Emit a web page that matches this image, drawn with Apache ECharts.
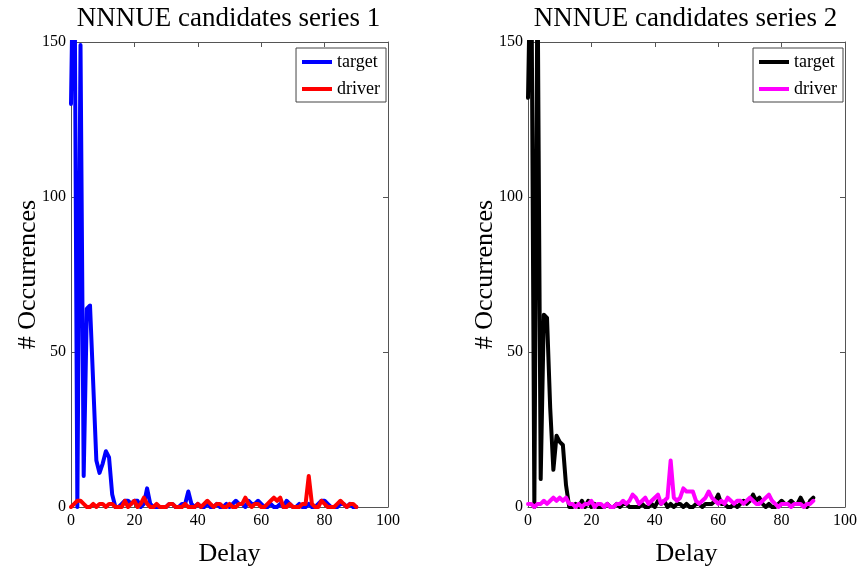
<!DOCTYPE html>
<html>
<head>
<meta charset="utf-8">
<script src="https://cdn.jsdelivr.net/npm/echarts@6/dist/echarts.min.js"></script>
<style>
  html, body { margin: 0; padding: 0; background: #fff; }
  #chart { width: 860px; height: 572px; }
</style>
</head>
<body>
<div id="chart"></div>
<script>
// Delay histograms for two NNNUE candidate series (target vs driver).
const delays = Array.from({ length: 91 }, (_, i) => i);

const series1Target = [
  130, 200, 0, 149, 10, 64, 65, 40, 15, 11,
  14, 18, 16, 4, 0, 0, 1, 2, 2, 1,
  2, 2, 0, 1, 6, 1, 0, 0, 0, 0,
  0, 1, 1, 0, 0, 1, 1, 5, 1, 0,
  1, 0, 0, 1, 0, 0, 1, 0, 0, 1,
  0, 1, 2, 1, 1, 0, 2, 1, 1, 2,
  1, 0, 0, 1, 0, 0, 1, 0, 2, 1,
  0, 0, 1, 0, 0, 1, 0, 0, 1, 2,
  2, 1, 0, 0, 0, 1, 1, 0, 1, 0,
  0
];
const series1Driver = [
  0, 1, 2, 2, 1, 0, 0, 1, 0, 1,
  1, 0, 1, 1, 0, 0, 0, 2, 0, 1,
  2, 0, 1, 3, 1, 0, 0, 1, 0, 0,
  0, 1, 1, 0, 0, 0, 1, 0, 0, 0,
  1, 0, 1, 2, 1, 0, 1, 1, 0, 0,
  1, 0, 0, 1, 1, 3, 1, 0, 1, 1,
  0, 0, 1, 2, 3, 2, 3, 0, 0, 1,
  0, 0, 0, 1, 1, 10, 1, 0, 0, 2,
  1, 0, 0, 0, 1, 2, 1, 0, 1, 1,
  0
];
const series2Target = [
  132, 190, 0, 175, 9, 62, 61, 32, 12, 23,
  21, 20, 7, 0, 0, 1, 0, 2, 0, 2,
  0, 1, 0, 0, 0, 1, 0, 0, 1, 0,
  1, 1, 0, 0, 0, 0, 1, 0, 0, 1,
  0, 2, 1, 2, 0, 1, 0, 1, 1, 0,
  1, 0, 0, 1, 1, 0, 1, 1, 1, 2,
  4, 1, 1, 0, 0, 1, 0, 1, 2, 1,
  2, 4, 2, 3, 1, 0, 1, 0, 0, 1,
  2, 1, 1, 2, 1, 1, 3, 1, 0, 2,
  3
];
const series2Driver = [
  1, 1, 0, 1, 1, 2, 1, 2, 3, 2,
  3, 2, 3, 1, 1, 0, 1, 0, 1, 1,
  2, 0, 1, 1, 0, 1, 0, 0, 1, 1,
  2, 1, 2, 4, 3, 1, 2, 3, 1, 2,
  3, 4, 1, 2, 3, 15, 3, 2, 3, 6,
  5, 5, 5, 2, 1, 2, 3, 5, 3, 2,
  1, 2, 1, 3, 2, 1, 2, 2, 1, 2,
  3, 2, 1, 1, 2, 3, 4, 2, 1, 0,
  1, 1, 1, 0, 1, 1, 1, 0, 1, 1,
  2
];

const titles = ['NNNUE candidates series 1', 'NNNUE candidates series 2'];
const xTicks = [0, 20, 40, 60, 80, 100];
const yTicks = [0, 50, 100, 150];

const FONT = 'Liberation Serif';
const AXIS = '#555';

const grids = [
  { left: 71, top: 42, width: 317, height: 468 },
  { left: 528, top: 42, width: 317, height: 468 },
];

const xAxis = [], yAxis = [];
grids.forEach((g, i) => {
  // bottom + top x axes, left + right y axes (box with inward ticks)
  xAxis.push({
    gridIndex: i, type: 'value', min: xTicks[0], max: xTicks[xTicks.length - 1], interval: 20,
    name: 'Delay', nameLocation: 'middle', nameGap: 34,
    nameTextStyle: { fontFamily: FONT, fontSize: 26, color: '#000' },
    axisLine: { show: true, onZero: false, lineStyle: { color: AXIS, width: 1 } },
    axisTick: { inside: true, length: 5, lineStyle: { color: AXIS } },
    axisLabel: { fontFamily: FONT, fontSize: 16, color: '#000', margin: 6 },
    splitLine: { show: false },
  });
  xAxis.push({
    gridIndex: i, type: 'value', position: 'top', min: 0, max: 100, interval: 20,
    axisLine: { show: true, onZero: false, lineStyle: { color: AXIS, width: 1 } },
    axisTick: { inside: true, length: 5, lineStyle: { color: AXIS } },
    axisLabel: { show: false }, splitLine: { show: false },
  });
  yAxis.push({
    gridIndex: i, type: 'value', min: yTicks[0], max: yTicks[yTicks.length - 1], interval: 50,
    name: '# Occurrences', nameLocation: 'middle', nameGap: 30, nameRotate: 90,
    nameMoveOverlap: false,
    nameTextStyle: { fontFamily: FONT, fontSize: 26, color: '#000' },
    axisLine: { show: true, onZero: false, lineStyle: { color: AXIS, width: 1 } },
    axisTick: { inside: true, length: 5, lineStyle: { color: AXIS } },
    axisLabel: { fontFamily: FONT, fontSize: 16, color: '#000', margin: 5 },
    splitLine: { show: false },
  });
  yAxis.push({
    gridIndex: i, type: 'value', position: 'right', min: 0, max: 150, interval: 50,
    axisLine: { show: true, onZero: false, lineStyle: { color: AXIS, width: 1 } },
    axisTick: { inside: true, length: 5, lineStyle: { color: AXIS } },
    axisLabel: { show: false }, splitLine: { show: false },
  });
});

function lineSeries(name, values, color, gi, z) {
  return {
    name, type: 'line', xAxisIndex: gi * 2, yAxisIndex: gi * 2, z,
    data: values.map((v, k) => [delays[k], v]),
    showSymbol: false, silent: true, clip: true,
    lineStyle: { color, width: 4, join: 'round', cap: 'round' },
    itemStyle: { color },
  };
}

const series = [
  lineSeries('target', series1Target, '#0000ff', 0, 2),
  lineSeries('driver', series1Driver, '#ff0000', 0, 3),
  lineSeries('target ', series2Target, '#000000', 1, 2),
  lineSeries('driver ', series2Driver, '#ff00ff', 1, 3),
];

function legend(names, right) {
  return {
    orient: 'vertical', top: 48, right,
    data: names, icon: 'rect', itemWidth: 30, itemHeight: 4, itemGap: 9,
    padding: [5, 6, 4, 6],
    borderColor: '#444', borderWidth: 1, backgroundColor: '#fff',
    textStyle: { fontFamily: FONT, fontSize: 18, color: '#000' },
    formatter: n => n.trim(),
    selectedMode: false,
  };
}

const chart = echarts.init(document.getElementById('chart'));
chart.setOption({
  animation: false,
  title: titles.map((t, i) => ({
    text: t, left: grids[i].left + grids[i].width / 2 - 6, top: 0, textAlign: 'center',
    textStyle: { fontFamily: FONT, fontSize: 27, fontWeight: 'normal', color: '#000' },
  })),
  legend: [legend(['target', 'driver'], 860 - 386), legend(['target ', 'driver '], 860 - 843)],
  grid: grids,
  xAxis, yAxis, series,
});
</script>
</body>
</html>
